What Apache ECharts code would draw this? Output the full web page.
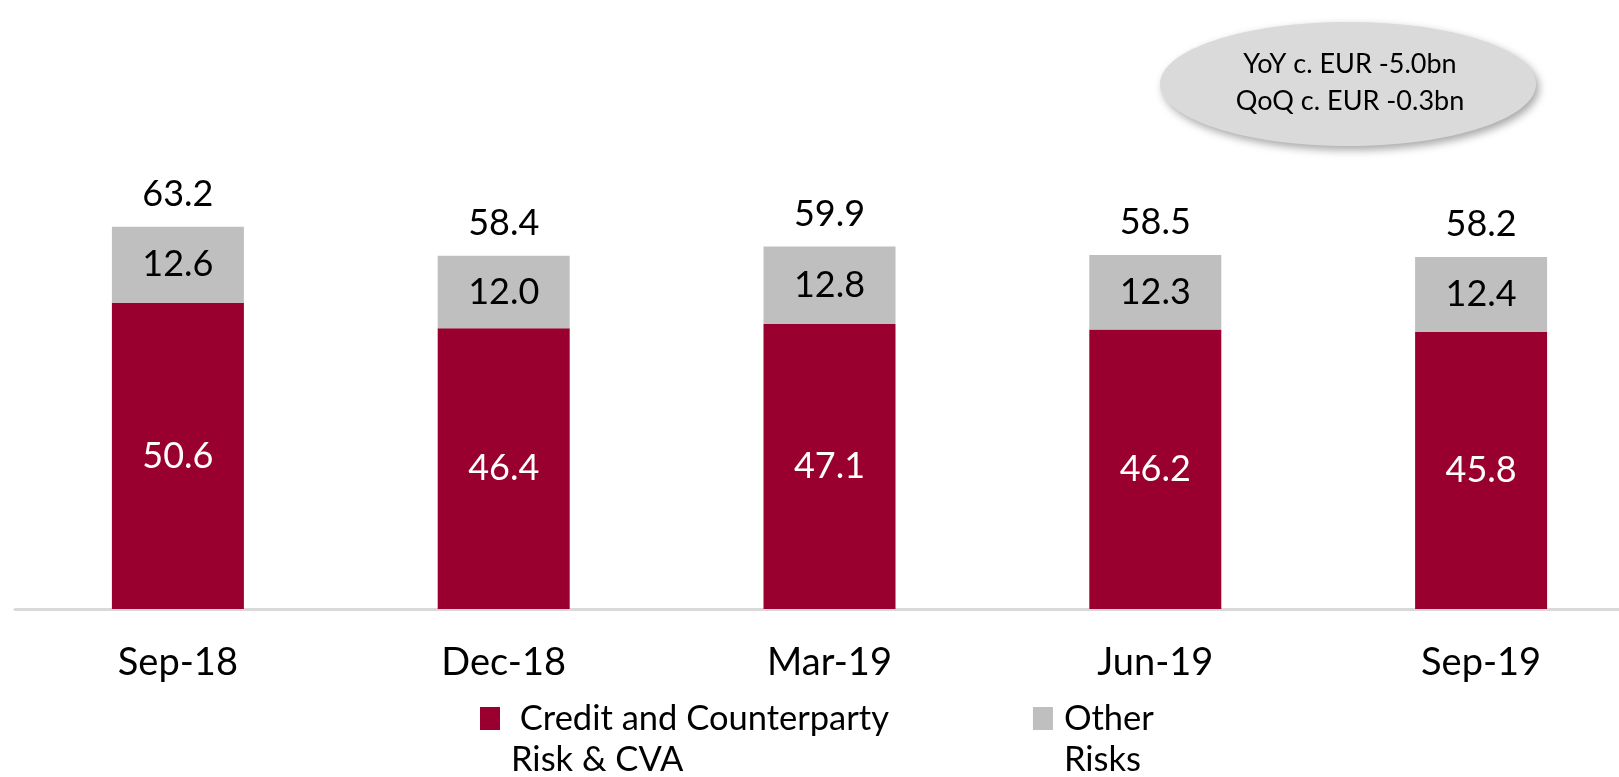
<!DOCTYPE html>
<html>
<head>
<meta charset="utf-8">
<script src="https://cdn.jsdelivr.net/npm/echarts@6/dist/echarts.min.js"></script>
<style>
html,body{margin:0;padding:0;background:#fff;}
#chart{width:1619px;height:777px;}
</style>
</head>
<body>
<div id="chart"></div>
<script>
const categories = ['Sep-18', 'Dec-18', 'Mar-19', 'Jun-19', 'Sep-19'];
const creditRisk = [50.6, 46.4, 47.1, 46.2, 45.8];
const otherRisks = [12.6, 12.0, 12.8, 12.3, 12.4];
const totals = [63.2, 58.4, 59.9, 58.5, 58.2];
const seriesNames = ['Credit and Counterparty\nRisk & CVA', 'Other\nRisks'];
const noteLines = ['YoY c. EUR -5.0bn', 'QoQ c. EUR -0.3bn'];

const FONT = 'Lato, "Open Sans", sans-serif';
const chart = echarts.init(document.getElementById('chart'), null, {renderer: 'canvas'});

chart.setOption({
  animation: false,
  backgroundColor: '#ffffff',
  textStyle: {fontFamily: FONT},
  grid: {left: 15, width: 1629, top: 185.5, bottom: 168, containLabel: false, outerBoundsMode: 'none'},
  xAxis: {
    type: 'category',
    data: categories,
    axisLine: {show: true, lineStyle: {color: '#d9d9d9', width: 3}},
    axisTick: {show: false},
    axisLabel: {fontSize: 38, color: '#000', margin: 35, fontFamily: FONT}
  },
  yAxis: {
    type: 'value',
    min: 0,
    max: 70,
    show: false,
    splitLine: {show: false}
  },
  legend: {
    left: 475,
    top: 652,
    itemWidth: 20,
    itemHeight: 23,
    itemGap: 144,
    icon: 'rect',
    data: seriesNames,
    formatter: name => '\n' + (name === seriesNames[0] ? ' ' : '') + name,
    textStyle: {fontSize: 34.5, color: '#000', fontFamily: FONT, lineHeight: 41, padding: [0, 0, 0, 6]}
  },
  graphic: [
    {
      type: 'ellipse',
      shape: {cx: 1348, cy: 84, rx: 188, ry: 62},
      style: {fill: '#dadada', shadowBlur: 8, shadowOffsetX: 3, shadowOffsetY: 4, shadowColor: 'rgba(0,0,0,0.35)'},
      z: 10
    },
    {
      type: 'text',
      x: 1350, y: 83,
      style: {text: noteLines.join('\n'), fontSize: 27, lineHeight: 37, fill: '#000', align: 'center', verticalAlign: 'middle', fontFamily: FONT},
      z: 11
    }
  ],
  series: [
    {
      name: seriesNames[0],
      type: 'bar',
      stack: 'total',
      barWidth: 132,
      data: creditRisk,
      itemStyle: {color: '#990030'},
      label: {show: true, position: 'inside', fontSize: 36, color: '#fff', fontFamily: FONT,
        formatter: p => p.value.toFixed(1)}
    },
    {
      name: seriesNames[1],
      type: 'bar',
      stack: 'total',
      barWidth: 132,
      data: otherRisks,
      itemStyle: {color: '#bfbfbf'},
      label: {show: true, position: 'inside', fontSize: 36, color: '#000', fontFamily: FONT,
        formatter: p => p.value.toFixed(1)}
    },
    {
      name: 'Total',
      type: 'line',
      data: totals,
      symbol: 'circle',
      symbolSize: 1,
      showSymbol: true,
      itemStyle: {color: 'rgba(0,0,0,0)'},
      lineStyle: {opacity: 0},
      silent: true,
      label: {show: true, position: 'top', distance: 14, fontSize: 36, color: '#000', fontFamily: FONT,
        formatter: p => p.value.toFixed(1)}
    }
  ]
});
</script>
</body>
</html>
